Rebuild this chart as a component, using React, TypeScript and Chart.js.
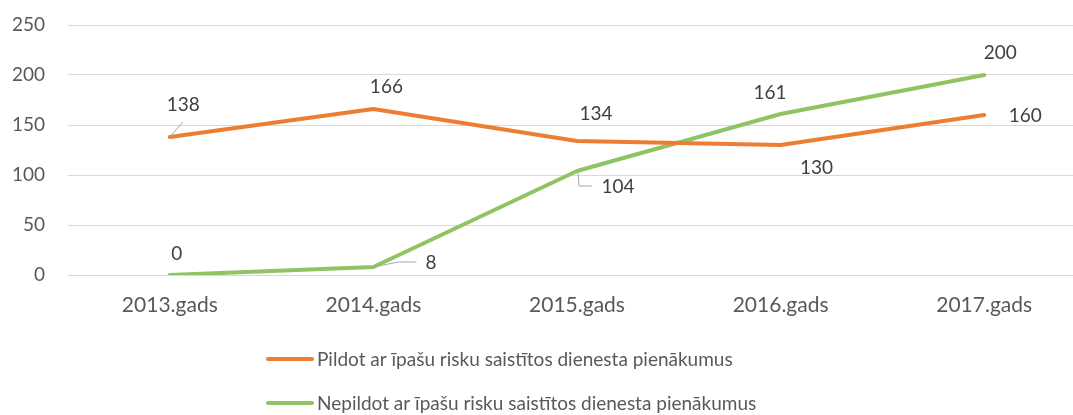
import React, { useEffect, useRef } from "react";
import { Chart, registerables } from "chart.js";

Chart.register(...registerables);

const categories = ["2013.gads", "2014.gads", "2015.gads", "2016.gads", "2017.gads"];
const seriesNames = [
  "Pildot ar īpašu risku saistītos dienesta pienākumus",
  "Nepildot ar īpašu risku saistītos dienesta pienākumus",
];
const pildot = [138, 166, 134, 130, 160];
const nepildot = [0, 8, 104, 161, 200];
const yTicks = [0, 50, 100, 150, 200, 250];

const ORANGE = "#ED7D31";
const GREEN = "#8FC462";
const FONT = "Lato, 'Open Sans', sans-serif";
const FONT_SIZE = 19;

// label placement (offset from the point, in px) and optional leader elbows
const labelOffsets: number[][][] = [
  [[13.5, -32.5], [13, -22], [19, -27.5], [36, 23], [41, 1]],
  [[7, -21.5], [57.5, -4], [41, 15.5], [-10.5, -21.5], [16, -22]],
];
const leaders: (number[][] | null)[][] = [
  [[[0, 0], [13, -15]], null, null, null, null],
  [null, [[0, 0], [25, -5], [43, -5]], [[1, 2], [2, 15], [15, 15]], null, null],
];

const labelPlugin = {
  id: "customLabels",
  afterDatasetsDraw(chart: any) {
    const ctx = chart.ctx;
    ctx.save();
    chart.data.datasets.forEach((ds: any, di: number) => {
      const meta = chart.getDatasetMeta(di);
      meta.data.forEach((pt: any, i: number) => {
        const lead = leaders[di][i];
        if (lead) {
          ctx.strokeStyle = "#A6A6A6";
          ctx.lineWidth = 1;
          ctx.beginPath();
          lead.forEach((p, k) => {
            const x = pt.x + p[0];
            const y = pt.y + p[1];
            if (k === 0) ctx.moveTo(x, y);
            else ctx.lineTo(x, y);
          });
          ctx.stroke();
        }
        const off = labelOffsets[di][i];
        ctx.fillStyle = "#404040";
        ctx.font = `${FONT_SIZE}px ${FONT}`;
        ctx.textAlign = "center";
        ctx.textBaseline = "middle";
        ctx.fillText(String(ds.data[i]), pt.x + off[0], pt.y + off[1]);
      });
    });
    ctx.restore();
  },
};

const legendPlugin = {
  id: "customLegend",
  afterDraw(chart: any) {
    const ctx = chart.ctx;
    ctx.save();
    const rows = [359, 403];
    chart.data.datasets.forEach((ds: any, di: number) => {
      const y = rows[di];
      ctx.strokeStyle = ds.borderColor;
      ctx.lineWidth = 4;
      ctx.lineCap = "round";
      ctx.beginPath();
      ctx.moveTo(268, y);
      ctx.lineTo(312, y);
      ctx.stroke();
      ctx.fillStyle = "#595959";
      ctx.font = `${FONT_SIZE}px ${FONT}`;
      ctx.textAlign = "left";
      ctx.textBaseline = "middle";
      ctx.fillText(ds.label, 317, y + 1);
    });
    ctx.restore();
  },
};

export default function App() {
  const ref = useRef<HTMLCanvasElement>(null);
  useEffect(() => {
    if (!ref.current) return;
    const chart = new Chart(ref.current, {
      type: "line",
      data: {
        labels: categories,
        datasets: [
          {
            label: seriesNames[0],
            data: pildot,
            borderColor: ORANGE,
            backgroundColor: ORANGE,
            borderWidth: 4,
            pointRadius: 0,
            tension: 0,
            borderCapStyle: "round",
            borderJoinStyle: "round",
          },
          {
            label: seriesNames[1],
            data: nepildot,
            borderColor: GREEN,
            backgroundColor: GREEN,
            borderWidth: 4,
            pointRadius: 0,
            tension: 0,
            borderCapStyle: "round",
            borderJoinStyle: "round",
          },
        ],
      },
      options: {
        animation: false,
        responsive: false,
        layout: { padding: { top: 25, bottom: 0, left: 0, right: 0 } },
        plugins: { legend: { display: false }, tooltip: { enabled: false } },
        scales: {
          x: {
            offset: true,
            grid: { display: false, drawTicks: false },
            border: { display: false },
            ticks: {
              color: "#595959",
              font: { family: FONT, size: 21 },
              padding: 18,
              maxRotation: 0,
            },
            afterFit: (s: any) => {
              s.height = 140;
            },
          },
          y: {
            min: 0,
            max: 250,
            afterBuildTicks: (s: any) => {
              s.ticks = yTicks.map((v) => ({ value: v }));
            },
            grid: { color: "#D9D9D9", lineWidth: 1, drawTicks: false },
            border: { display: false },
            ticks: {
              color: "#595959",
              font: { family: FONT, size: FONT_SIZE },
              padding: 23,
            },
            afterFit: (s: any) => {
              s.width = 68;
              s.paddingTop = 0;
              s.paddingBottom = 0;
            },
          },
        },
      },
      plugins: [labelPlugin, legendPlugin],
    });
    return () => chart.destroy();
  }, []);
  return (
    <div style={{ position: "absolute", left: 0, top: 0, width: 1073, height: 415, overflow: "hidden", background: "#fff" }}>
      <canvas ref={ref} width={1086} height={415} style={{ width: 1086, height: 415, display: "block" }} />
    </div>
  );
}
